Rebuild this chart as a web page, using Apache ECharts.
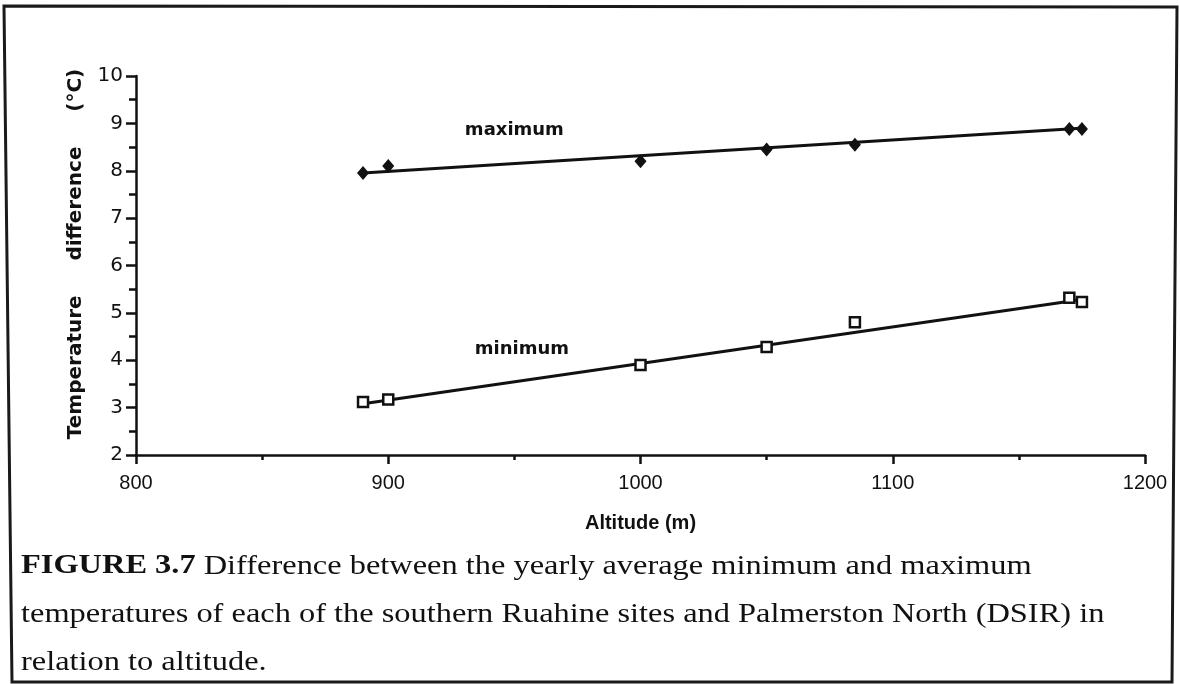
<!DOCTYPE html>
<html>
<head>
<meta charset="utf-8">
<script src="https://cdn.jsdelivr.net/npm/echarts@6/dist/echarts.min.js"></script>
<style>
  html, body { margin: 0; padding: 0; background: #fff; }
  #chart { width: 1180px; height: 684px; }
</style>
</head>
<body>
<div id="chart"></div>
<script>
// data
const altitudes = [890, 900, 1000, 1050, 1085, 1170, 1175];
const maxDiff = [7.95, 8.1, 8.2, 8.45, 8.55, 8.88, 8.88];
const minDiff = [3.12, 3.17, 3.9, 4.28, 4.8, 5.32, 5.23];

// fitted lines (end points)
const maxFitX = [890, 1176];
const maxFitY = [7.95, 8.9];
const minFitX = [890, 1177];
const minFitY = [3.08, 5.3];

// in-plot labels
const noteText = ['maximum', 'minimum'];
const noteX = [950, 953];
const noteY = [8.86, 4.24];

const captionLines = [
    ['FIGURE 3.7', ' Difference between the yearly average minimum and maximum'],
    ['', 'temperatures of each of the southern Ruahine sites and Palmerston North (DSIR) in'],
    ['', 'relation to altitude.']
];

const serif = '"Liberation Serif", "Times New Roman", Times, serif';

const chart = echarts.init(document.getElementById('chart'));

function pairs(xs, ys) {
    return xs.map((x, i) => [x, ys[i]]);
}

const captionBase = [580, 628, 676];

let graphics = [{
    type: 'polygon',
    shape: { points: [[4, 6], [1177, 7], [1172, 682], [12, 682]] },
    style: { fill: 'none', stroke: '#1a1a1a', lineWidth: 3 },
    z: 10
}];

captionLines.forEach((ln, i) => {
    graphics.push({
        type: 'text',
        x: 21,
        y: captionBase[i],
        scaleX: 1.2,
        originX: 0,
        style: {
            text: (ln[0] ? '{b|' + ln[0] + '}' : '') + '{r|' + ln[1] + '}',
            fontFamily: serif,
            fontSize: 27,
            verticalAlign: 'bottom',
            fill: '#111',
            rich: {
                b: { fontFamily: serif, fontWeight: 'bold', fontSize: 27, fill: '#111' },
                r: { fontFamily: serif, fontSize: 27, fill: '#111' }
            }
        }
    });
});

let option = {
    backgroundColor: '#fff',
    animation: false,
    grid: {
        left: 136,
        right: 35,
        top: 76,
        bottom: 229,
        containLabel: false,
        outerBoundsMode: 'none'
    },
    xAxis: {
        type: 'value',
        min: 800,
        max: 1200,
        interval: 100,
        name: 'Altitude (m)',
        nameLocation: 'middle',
        nameGap: 58,
        nameTextStyle: {
            fontFamily: 'Liberation Sans',
            fontWeight: 'bold',
            fontSize: 20,
            color: '#111'
        },
        axisLine: { lineStyle: { color: '#111', width: 2.5 } },
        axisTick: { inside: false, length: 9, lineStyle: { color: '#111', width: 2.5 } },
        minorTick: { show: true, splitNumber: 2, length: 5, lineStyle: { color: '#111', width: 2.5 } },
        axisLabel: {
            margin: 18,
            fontFamily: 'Liberation Sans',
            fontSize: 20,
            color: '#111',
            formatter: v => String(v)
        },
        splitLine: { show: false }
    },
    yAxis: {
        type: 'value',
        min: 2,
        max: 10,
        interval: 1,
        name: 'Temperature     difference     (°C)',
        nameLocation: 'middle',
        nameGap: 50,
        nameTextStyle: {
            fontFamily: 'DejaVu Sans',
            fontWeight: 'bold',
            fontSize: 20,
            color: '#111',
            padding: [0, 0, 0, 23]
        },
        axisLine: { show: true, lineStyle: { color: '#111', width: 2.5 } },
        axisTick: { show: true, inside: false, length: 10, lineStyle: { color: '#111', width: 2.5 } },
        minorTick: { show: true, splitNumber: 2, length: 7, lineStyle: { color: '#111', width: 2.5 } },
        axisLabel: {
            margin: 13,
            fontFamily: 'DejaVu Sans',
            fontSize: 20,
            color: '#111'
        },
        splitLine: { show: false }
    },
    series: [
        {
            type: 'line',
            data: pairs(maxFitX, maxFitY),
            symbol: 'none',
            lineStyle: { color: '#111', width: 3 },
            z: 2
        },
        {
            type: 'line',
            data: pairs(minFitX, minFitY),
            symbol: 'none',
            lineStyle: { color: '#111', width: 3 },
            z: 2
        },
        {
            type: 'scatter',
            data: pairs(altitudes, maxDiff),
            symbol: 'diamond',
            symbolSize: [12, 14],
            itemStyle: { color: '#111', opacity: 1 },
            z: 3
        },
        {
            type: 'scatter',
            data: pairs(altitudes, minDiff),
            symbol: 'rect',
            symbolSize: 10,
            itemStyle: { color: '#fff', borderColor: '#111', borderWidth: 2.5, opacity: 1 },
            z: 3
        },
        {
            type: 'scatter',
            data: noteText.map((t, i) => ({ name: t, value: [noteX[i], noteY[i]] })),
            symbolSize: 1,
            itemStyle: { opacity: 0 },
            silent: true,
            label: {
                show: true,
                position: 'inside',
                formatter: '{b}',
                fontFamily: 'DejaVu Sans',
                fontWeight: 'bold',
                fontSize: 18,
                color: '#111',
                opacity: 1,
                textBorderWidth: 0
            },
            z: 4
        }
    ],
    graphic: graphics
};

if (option && typeof option === 'object') {
    chart.setOption(option);
}
</script>
</body>
</html>
